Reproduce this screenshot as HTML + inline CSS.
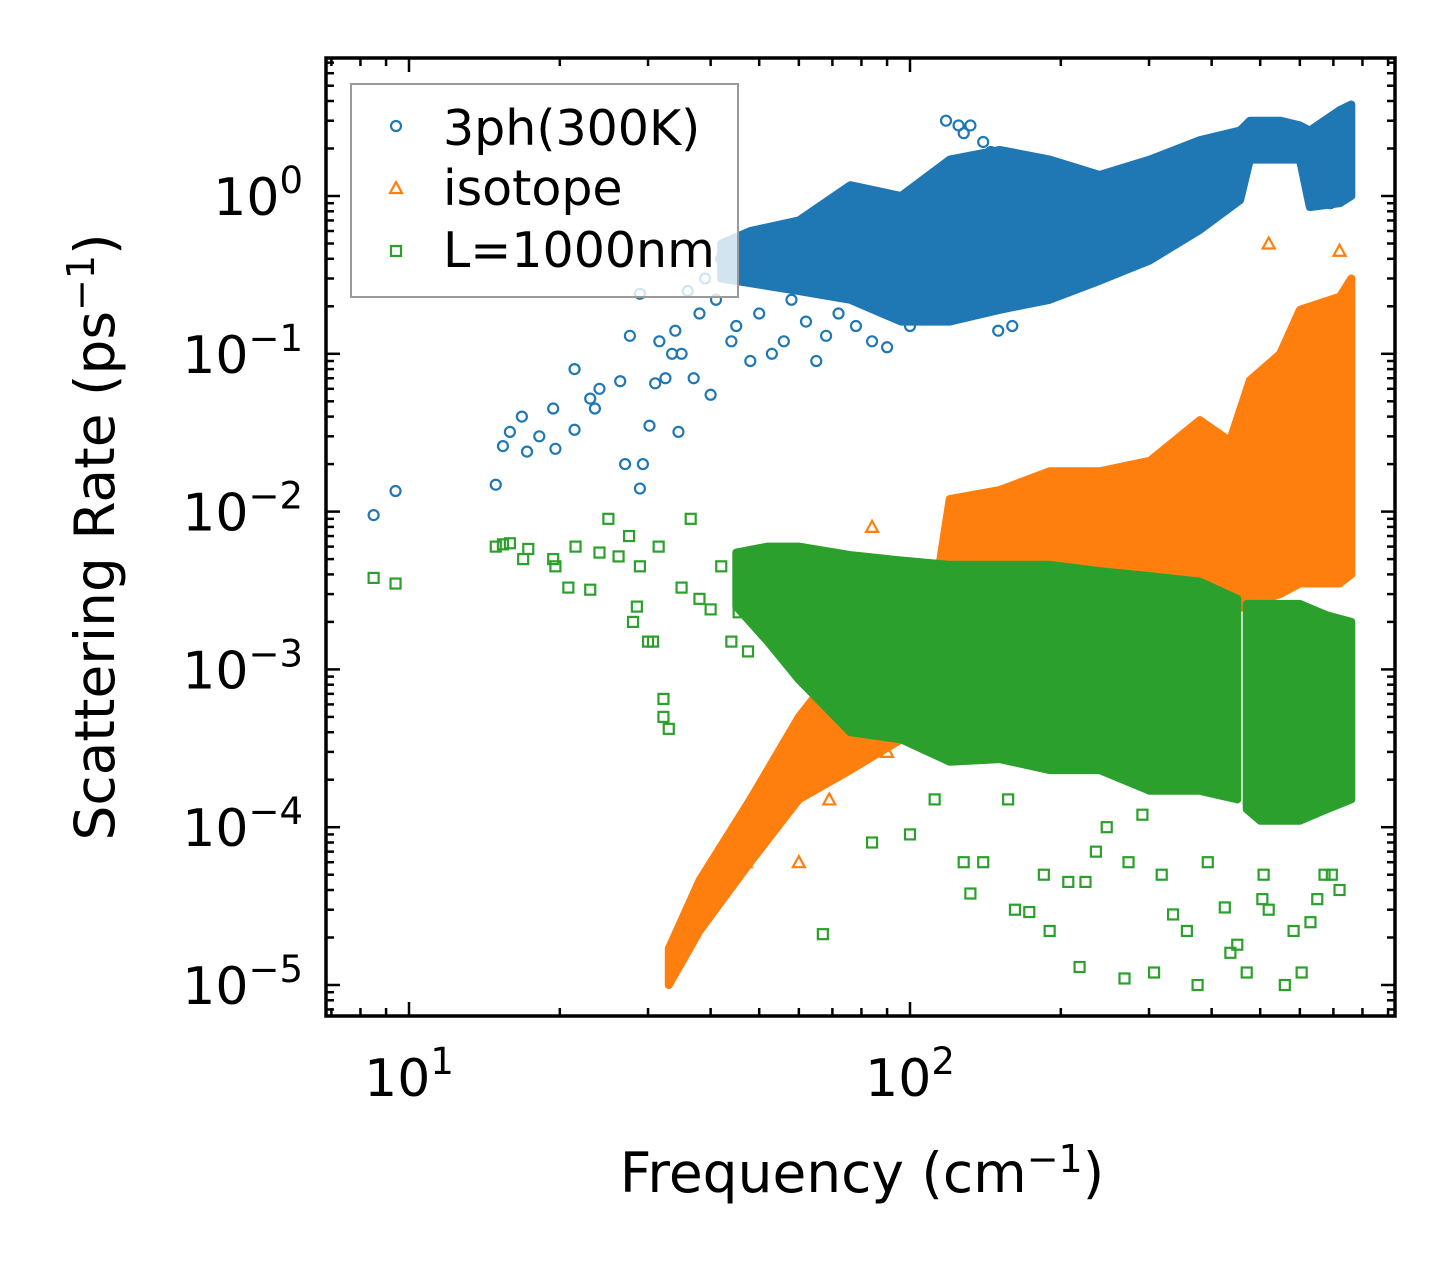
<!DOCTYPE html>
<html><head><meta charset="utf-8"><style>
html,body{margin:0;padding:0;background:#fff}
svg{display:block}
text{font-family:"DejaVu Sans","Liberation Sans",sans-serif}
</style></head><body>
<svg id="chart" width="1455" height="1265" viewBox="0 0 1455 1265" xmlns="http://www.w3.org/2000/svg">
<g id="marks"></g>
<g id="axes"></g>
<g id="legend">
<rect x="351" y="84" width="387" height="213" fill="#fff" fill-opacity="0.8" stroke="#999" stroke-width="2"/>
<circle cx="396" cy="126" r="5" fill="none" stroke="#1f77b4" stroke-width="2.2"/>
<text x="443" y="145" font-size="49">3ph(300K)</text>
<path d="M396 182 L402 193 L390 193 Z" fill="none" stroke="#ff7f0e" stroke-width="2.2"/>
<text x="443" y="205" font-size="49">isotope</text>
<rect x="391" y="246" width="10" height="10" fill="none" stroke="#2ca02c" stroke-width="2.2"/>
<text x="443" y="267" font-size="49">L=1000nm</text>
</g>
<text x="862" y="1192" font-size="55" text-anchor="middle">Frequency (cm<tspan dy="-20" font-size="38">−1</tspan><tspan dy="20">)</tspan></text>
<text transform="translate(114,537) rotate(-90)" font-size="55" text-anchor="middle">Scattering Rate (ps<tspan dy="-20" font-size="38">−1</tspan><tspan dy="20">)</tspan></text>
</svg>
<script>
// ---- data ----
const bandFreq3ph = [42, 48, 60, 76, 96, 120, 151, 190, 239, 301, 379, 456, 477, 548, 600, 628, 721, 760];
const bandLo3ph   = [0.30,0.28,0.25,0.22,0.16,0.16,0.19,0.22,0.29,0.39,0.61,0.94,1.7,1.7,1.7,0.85,0.9,1.0];
const bandHi3ph   = [0.5, 0.6, 0.70,1.17,1.0, 1.7, 1.96,1.7, 1.36,1.7, 2.26,2.6, 3.0,3.0,2.8,2.6,3.5,3.8];
const bandFreqIso = [33, 38, 48, 60, 76, 96, 110, 120, 151, 190, 239, 301, 379, 435, 477, 548, 600, 721, 760];
const bandLoIso   = [1.0e-5,2.2e-5,6e-5,1.5e-4,2.3e-4,3.6e-4,4.8e-4,9e-4,1.3e-3,1.5e-3,2e-3,2.6e-3,2.6e-3,2.3e-3,2.6e-3,3e-3,3.5e-3,3.5e-3,4e-3];
const bandHiIso   = [1.7e-5,4.6e-5,1.5e-4,5e-4,1.3e-3,1.2e-3,2e-3,1.2e-2,1.37e-2,1.8e-2,1.8e-2,2.1e-2,3.8e-2,2.8e-2,6.8e-2,1e-1,1.9e-1,2.3e-1,3e-1];
const bandFreqBdy1 = [45, 52, 60, 76, 96, 120, 151, 190, 239, 301, 379, 450];
const bandLoBdy1   = [2.5e-3,1.5e-3,8.6e-4,4e-4,3.6e-4,2.6e-4,2.7e-4,2.3e-4,2.3e-4,1.7e-4,1.7e-4,1.5e-4];
const bandHiBdy1   = [5.5e-3,6e-3,6e-3,5.3e-3,4.9e-3,4.6e-3,4.6e-3,4.6e-3,4.2e-3,3.9e-3,3.6e-3,2.8e-3];
const bandFreqBdy2 = [470, 500, 548, 600, 680, 760];
const bandLoBdy2   = [1.3e-4,1.1e-4,1.1e-4,1.1e-4,1.3e-4,1.5e-4];
const bandHiBdy2   = [2.6e-3,2.6e-3,2.6e-3,2.6e-3,2.2e-3,2.0e-3];
const ptsFreq3ph = [8.5,9.4,14.9,15.4,15.9,16.8,17.2,18.2,19.4,19.6,21.4,21.4,23,23.5,24,26.4,27,27.6,28.9,29.3,28.9,30.2,31,31.6,32.5,33.5,34.5,34,35,36,37,38,39,40,41,42,44,45,47,48,50,53,56,58,62,65,68,72,78,84,90,95,100,106,118,125,128,132,140,145,150,160,180,670,690];
const ptsVal3ph  = [0.0095,0.0135,0.0148,0.026,0.032,0.04,0.024,0.03,0.045,0.025,0.033,0.08,0.052,0.045,0.06,0.067,0.02,0.13,0.014,0.02,0.24,0.035,0.065,0.12,0.07,0.1,0.032,0.14,0.1,0.25,0.07,0.18,0.3,0.055,0.22,0.4,0.12,0.15,0.3,0.09,0.18,0.1,0.12,0.22,0.16,0.09,0.13,0.18,0.15,0.12,0.11,0.24,0.15,0.2,3.0,2.8,2.5,2.8,2.2,1.9,0.14,0.15,0.8,1.4,0.9];
const ptsFreqIso = [520,720,370,134,140,122,100,84,706,715,690,100,90,69,51,50,47,60,415,420,670];
const ptsValIso  = [0.5,0.45,0.025,0.008,0.011,0.003,0.003,0.008,0.005,0.0055,0.0065,0.0009,0.0003,0.00015,0.00012,0.00013,0.00006,0.00006,0.003,0.001,0.004];
const ptsFreqBdy = [8.5,9.4,14.9,15.4,15.9,16.9,17.3,19.4,19.6,20.8,21.5,23,24,25,26.2,27.5,28,28.5,28.9,30,30.7,31.5,32.2,32.2,33,35,36.5,38,40,42,44,45.5,47.5,50,55,
  67,84,100,112,128,132,140,157,162,173,185,190,207,218,224,235,247,268,273,291,307,318,335,357,375,393,425,436,450,470,505,508,520,560,583,605,630,650,672,695,720];
const ptsValBdy  = [0.0038,0.0035,0.006,0.0062,0.0063,0.005,0.0058,0.005,0.0045,0.0033,0.006,0.0032,0.0055,0.009,0.0052,0.007,0.002,0.0025,0.0045,0.0015,0.0015,0.006,0.00065,0.0005,0.00042,0.0033,0.009,0.0028,0.0024,0.0045,0.0015,0.0023,0.0013,0.002,0.0015,
  2.1e-5,8e-5,9e-5,1.5e-4,6e-5,3.8e-5,6e-5,1.5e-4,3e-5,2.9e-5,5e-5,2.2e-5,4.5e-5,1.3e-5,4.5e-5,7e-5,1e-4,1.1e-5,6e-5,1.2e-4,1.2e-5,5e-5,2.8e-5,2.2e-5,1e-5,6e-5,3.1e-5,1.6e-5,1.8e-5,1.2e-5,3.5e-5,5e-5,3e-5,1e-5,2.2e-5,1.2e-5,2.5e-5,3.5e-5,5e-5,5e-5,4e-5];
const xTickVals = [10, 100];
const xTickLabels = ["1", "2"];
const yTickVals = [1, 0.1, 0.01, 0.001, 0.0001, 0.00001];
const yTickLabels = ["0", "−1", "−2", "−3", "−4", "−5"];

// ---- axes ----
const L=326,R=1395,T=58,B=1016;
const X=f=>409+501*(Math.log10(f)-1);
const Y=v=>196-157.8*Math.log10(v);
const NS="http://www.w3.org/2000/svg";
const marks=document.getElementById('marks'), axes=document.getElementById('axes');
function mk(tag,attrs,parent){const e=document.createElementNS(NS,tag);for(const k in attrs)e.setAttribute(k,attrs[k]);parent.appendChild(e);return e;}

function band(fs,lo,hi,color,name){
  let d='M'+fs.map((f,i)=>X(f).toFixed(1)+' '+Y(hi[i]).toFixed(1)).join(' L');
  for(let i=fs.length-1;i>=0;i--) d+=' L'+X(fs[i]).toFixed(1)+' '+Y(lo[i]).toFixed(1);
  const p=mk('path',{d:d+'Z',fill:color,stroke:color,'stroke-width':8,'stroke-linejoin':'round'},marks);
  
  
}
function pts(fs,vs,kind,color,name){
  const n=Math.min(fs.length,vs.length);
  for(let i=0;i<n;i++){
    const x=X(fs[i]),y=Y(vs[i]);let e;
    if(kind==='o') e=mk('circle',{cx:x,cy:y,r:5,fill:'none',stroke:color,'stroke-width':2.2},marks);
    else if(kind==='^') e=mk('path',{d:`M${x} ${y-6}L${x+6} ${y+5}L${x-6} ${y+5}Z`,fill:'none',stroke:color,'stroke-width':2.2},marks);
    else e=mk('rect',{x:x-5,y:y-5,width:10,height:10,fill:'none',stroke:color,'stroke-width':2.2},marks);
    
    
  }
}
band(bandFreq3ph,bandLo3ph,bandHi3ph,'#1f77b4','3ph-dense-band');
pts(ptsFreq3ph,ptsVal3ph,'o','#1f77b4','3ph-point');
band(bandFreqIso,bandLoIso,bandHiIso,'#ff7f0e','isotope-dense-band');
pts(ptsFreqIso,ptsValIso,'^','#ff7f0e','isotope-point');
band(bandFreqBdy1,bandLoBdy1,bandHiBdy1,'#2ca02c','boundary-dense-band');
band(bandFreqBdy2,bandLoBdy2,bandHiBdy2,'#2ca02c','boundary-dense-band');
pts(ptsFreqBdy,ptsValBdy,'s','#2ca02c','boundary-point');

const frame=mk('rect',{x:L,y:T,width:R-L,height:B-T,fill:'none',stroke:'#000','stroke-width':3.5},axes);


for(let d=0;d<=2;d++)for(let m=1;m<10;m++){
  const f=m*Math.pow(10,d);const x=X(f);if(x<L||x>R)continue;
  const len=m===1?14:8;
  mk('line',{x1:x,y1:B,x2:x,y2:B-len,stroke:'#000','stroke-width':2.5},axes);
  mk('line',{x1:x,y1:T,x2:x,y2:T+len,stroke:'#000','stroke-width':2.5},axes);
}
xTickVals.forEach((v,i)=>{
  const t=mk('text',{x:X(v),y:1096,'font-size':52,'text-anchor':'middle'},axes);
  
  
  t.innerHTML='10<tspan dy="-22" font-size="37">'+xTickLabels[i]+'</tspan>';
});
for(let d=-6;d<=1;d++)for(let m=1;m<10;m++){
  const v=m*Math.pow(10,d);const y=Y(v);if(y<T||y>B)continue;
  const len=m===1?14:8;
  mk('line',{x1:L,y1:y,x2:L+len,y2:y,stroke:'#000','stroke-width':2.5},axes);
  mk('line',{x1:R,y1:y,x2:R-len,y2:y,stroke:'#000','stroke-width':2.5},axes);
}
yTickVals.forEach((v,i)=>{
  const t=mk('text',{x:303,y:Y(v)+19,'font-size':52,'text-anchor':'end'},axes);
  
  
  t.innerHTML='10<tspan dy="-22" font-size="37">'+yTickLabels[i]+'</tspan>';
});
</script>
</body></html>
